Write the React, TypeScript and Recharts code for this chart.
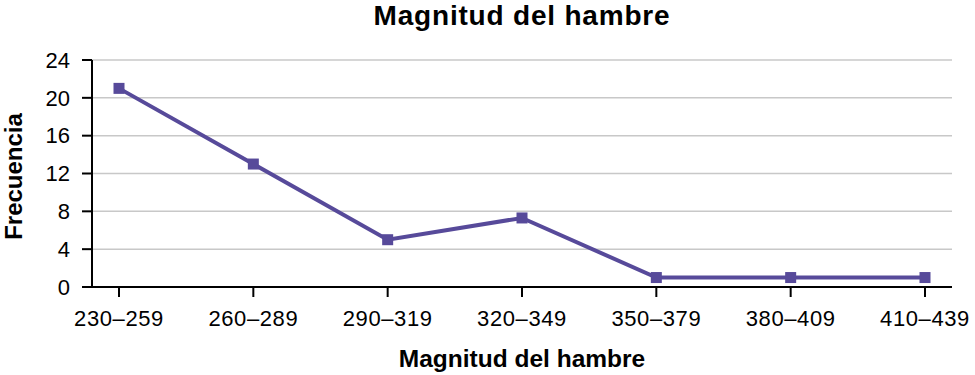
import { LineChart, Line, XAxis, YAxis, CartesianGrid, Label } from 'recharts'

const categories = ['230–259', '260–289', '290–319', '320–349', '350–379', '380–409', '410–439']
const frequencies = [21, 13, 5, 7.3, 1, 1, 1]
const yTicks = [0, 4, 8, 12, 16, 20, 24]

const data = categories.map((name, i) => ({ name, value: frequencies[i] }))

const LINE_COLOR = '#574a9a'
const FONT = '"Liberation Sans", Arial, sans-serif'

const SquareDot = (props: any) => {
  const { cx, cy, index } = props
  if (cx == null || cy == null) return <g key={`dot-${index}`} />
  return <rect key={`dot-${index}`} x={cx - 5.5} y={cy - 5.5} width={11} height={11} fill={LINE_COLOR} />
}

// y-axis title, baseline placed near x≈22 like the reference
const YTitle = (props: any) => {
  const { viewBox } = props
  const cy = viewBox.y + viewBox.height / 2 + 3
  return (
    <text
      x={22}
      y={cy}
      transform={`rotate(-90, 22, ${cy})`}
      textAnchor="middle"
      fill="#000"
      fontSize={24}
      fontWeight="bold"
      fontFamily={FONT}
    >
      Frecuencia
    </text>
  )
}

export default function App() {
  return (
    <div style={{ position: 'absolute', left: 0, top: 0, width: 975, height: 375, background: '#fff', fontFamily: FONT }}>
      <div
        style={{
          position: 'absolute',
          left: 92,
          width: 860,
          top: 0,
          lineHeight: '32px',
          textAlign: 'center',
          fontSize: 28,
          fontWeight: 'bold',
          letterSpacing: 0.8,
          color: '#000',
        }}
      >
        Magnitud del hambre
      </div>
      <LineChart width={975} height={375} data={data} margin={{ top: 60, right: 23, left: 0, bottom: 0 }}>
        <CartesianGrid vertical={false} stroke="#c8c8c8" strokeWidth={1.5} />
        <XAxis
          dataKey="name"
          height={88}
          padding={{ left: 27, right: 27 }}
          tickSize={10}
          tickMargin={13}
          axisLine={{ stroke: '#000', strokeWidth: 2 }}
          tickLine={{ stroke: '#000', strokeWidth: 2 }}
          tick={{ fill: '#000', fontSize: 22, fontFamily: FONT, letterSpacing: 0.6 }}
        >
          <Label
            value="Magnitud del hambre"
            position="insideBottom"
            offset={8}
            style={{ fill: '#000', fontSize: 24.5, fontWeight: 'bold', fontFamily: FONT }}
          />
        </XAxis>
        <YAxis
          width={92}
          domain={[0, 24]}
          ticks={yTicks}
          interval={0}
          tickSize={10}
          tickMargin={12}
          axisLine={{ stroke: '#000', strokeWidth: 2 }}
          tickLine={{ stroke: '#000', strokeWidth: 2 }}
          tick={{ fill: '#000', fontSize: 22, fontFamily: FONT }}
        >
          <Label content={YTitle} />
        </YAxis>
        <Line
          type="linear"
          dataKey="value"
          stroke={LINE_COLOR}
          strokeWidth={4}
          dot={SquareDot}
          activeDot={false}
          isAnimationActive={false}
        />
      </LineChart>
    </div>
  )
}
